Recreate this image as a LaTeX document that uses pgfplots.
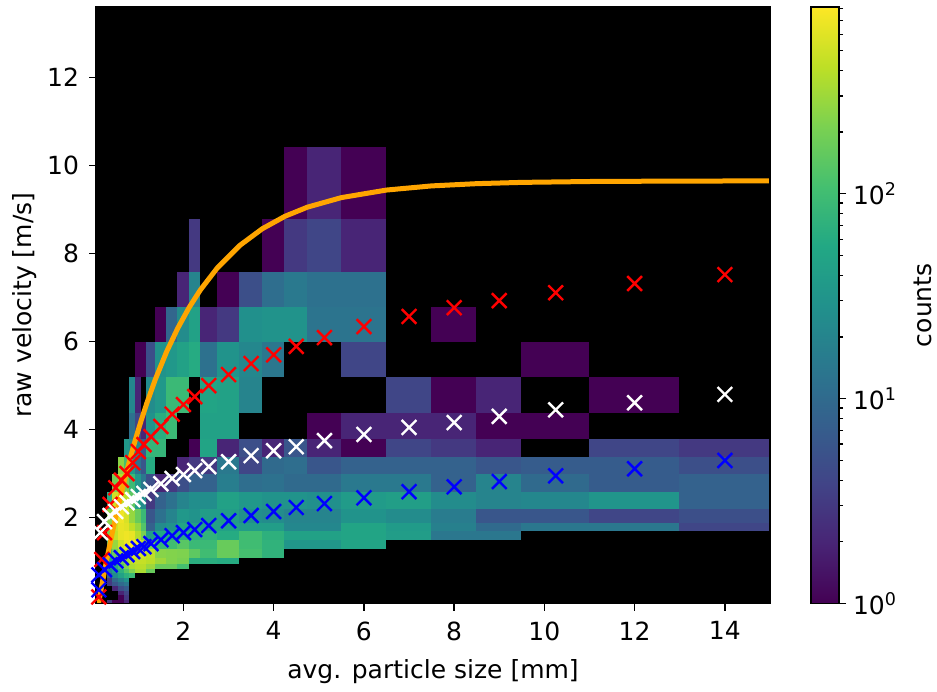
\documentclass[border=0pt]{standalone}
\usepackage{fontspec}
\setmainfont{DejaVu Sans}
\usepackage{pgfplots}
\pgfplotsset{compat=1.18}
\pgfplotsset{colormap={bviridis}{
 rgb255(0)=(0,0,0); rgb255(99)=(0,0,0);
 rgb255(100)=(68,1,84); rgb255(391)=(72,36,117); rgb255(681)=(65,68,135); rgb255(972)=(53,95,141);
 rgb255(1263)=(42,120,142); rgb255(1554)=(33,145,140); rgb255(1844)=(34,168,132); rgb255(2135)=(68,191,112);
 rgb255(2426)=(122,209,81); rgb255(2716)=(189,223,38); rgb255(3007)=(253,231,37)}}
\pgfplotsset{colormap={viridisb}{
 rgb255(0)=(68,1,84); rgb255(1)=(72,36,117); rgb255(2)=(65,68,135); rgb255(3)=(53,95,141);
 rgb255(4)=(42,120,142); rgb255(5)=(33,145,140); rgb255(6)=(34,168,132); rgb255(7)=(68,191,112);
 rgb255(8)=(122,209,81); rgb255(9)=(189,223,38); rgb255(10)=(253,231,37)}}
\definecolor{mplorange}{RGB}{255,165,0}
\begin{document}
\begin{tikzpicture}
\path[use as bounding box] (0,0) rectangle (468.5pt,345.5pt);
\begin{axis}[
 at={(48pt,43.75pt)},anchor=south west,scale only axis,width=337pt,height=298.25pt,
 xmin=0.062,xmax=15,ymin=0.05,ymax=13.6,
 xtick={2,4,6,8,10,12,14},ytick={2,4,6,8,10,12},
 xtick pos=bottom,ytick pos=left,tick align=outside,
 major tick length=3.5pt,
 every tick/.style={black,line width=.8pt},
 axis line style={line width=.8pt},
 /pgf/number format/assume math mode=true,
 tick label style={font=\fontsize{12.5}{15}\selectfont},
 xticklabel style={yshift=-2pt},yticklabel style={xshift=-1.5pt},
 xlabel={avg. particle size [mm]},ylabel={raw velocity [m/s]},
 every axis x label/.style={at={(axis description cs:0.5,0)},anchor=center,yshift=-34pt,font=\fontsize{12.5}{15}\selectfont},
 every axis y label/.style={at={(axis description cs:0,0.5)},anchor=center,rotate=90,yshift=35.5pt,font=\fontsize{12.5}{15}\selectfont},
 axis background/.style={fill=black},
 colormap name=bviridis,
 point meta min=-0.1,point meta max=2.907,
 clip=true,axis on top=true,
]
\addplot[surf,shader=flat corner,mesh/cols=28,mesh/ordering=x varies,line width=0pt,
 point meta={log10(max(\thisrow{c},0.1))}] table[row sep=\\,x=x,y=y] {
x y c\\
.062 .05 0\\.187 .05 0\\.312 .05 3\\.437 .05 1\\.562 .05 1\\.687 .05 2\\.812 .05 0\\.937 .05 0\\1.062 .05 0\\1.187 .05 0\\1.375 .05 0\\1.625 .05 0\\1.875 .05 0\\2.125 .05 0\\2.375 .05 0\\2.75 .05 0\\3.25 .05 0\\3.75 .05 0\\4.25 .05 0\\4.75 .05 0\\5.5 .05 0\\6.5 .05 0\\7.5 .05 0\\8.5 .05 0\\9.5 .05 0\\11 .05 0\\13 .05 0\\15 .05 0\\
.062 .15 0\\.187 .15 0\\.312 .15 0\\.437 .15 0\\.562 .15 1\\.687 .15 3\\.812 .15 0\\.937 .15 0\\1.062 .15 0\\1.187 .15 0\\1.375 .15 0\\1.625 .15 0\\1.875 .15 0\\2.125 .15 0\\2.375 .15 0\\2.75 .15 0\\3.25 .15 0\\3.75 .15 0\\4.25 .15 0\\4.75 .15 0\\5.5 .15 0\\6.5 .15 0\\7.5 .15 0\\8.5 .15 0\\9.5 .15 0\\11 .15 0\\13 .15 0\\15 .15 0\\
.062 .25 0\\.187 .25 0\\.312 .25 0\\.437 .25 0\\.562 .25 2\\.687 .25 4\\.812 .25 0\\.937 .25 0\\1.062 .25 0\\1.187 .25 0\\1.375 .25 0\\1.625 .25 0\\1.875 .25 0\\2.125 .25 0\\2.375 .25 0\\2.75 .25 0\\3.25 .25 0\\3.75 .25 0\\4.25 .25 0\\4.75 .25 0\\5.5 .25 0\\6.5 .25 0\\7.5 .25 0\\8.5 .25 0\\9.5 .25 0\\11 .25 0\\13 .25 0\\15 .25 0\\
.062 .35 0\\.187 .35 0\\.312 .35 0\\.437 .35 2\\.562 .35 5\\.687 .35 7\\.812 .35 0\\.937 .35 0\\1.062 .35 0\\1.187 .35 0\\1.375 .35 0\\1.625 .35 0\\1.875 .35 0\\2.125 .35 0\\2.375 .35 0\\2.75 .35 0\\3.25 .35 0\\3.75 .35 0\\4.25 .35 0\\4.75 .35 0\\5.5 .35 0\\6.5 .35 0\\7.5 .35 0\\8.5 .35 0\\9.5 .35 0\\11 .35 0\\13 .35 0\\15 .35 0\\
.062 .45 0\\.187 .45 0\\.312 .45 3\\.437 .45 6\\.562 .45 10\\.687 .45 14\\.812 .45 0\\.937 .45 0\\1.062 .45 0\\1.187 .45 0\\1.375 .45 0\\1.625 .45 0\\1.875 .45 0\\2.125 .45 0\\2.375 .45 0\\2.75 .45 0\\3.25 .45 0\\3.75 .45 0\\4.25 .45 0\\4.75 .45 0\\5.5 .45 0\\6.5 .45 0\\7.5 .45 0\\8.5 .45 0\\9.5 .45 0\\11 .45 0\\13 .45 0\\15 .45 0\\
.062 .55 0\\.187 .55 0\\.312 .55 3\\.437 .55 10\\.562 .55 18\\.687 .55 30\\.812 .55 0\\.937 .55 0\\1.062 .55 0\\1.187 .55 0\\1.375 .55 0\\1.625 .55 0\\1.875 .55 0\\2.125 .55 0\\2.375 .55 0\\2.75 .55 0\\3.25 .55 0\\3.75 .55 0\\4.25 .55 0\\4.75 .55 0\\5.5 .55 0\\6.5 .55 0\\7.5 .55 0\\8.5 .55 0\\9.5 .55 0\\11 .55 0\\13 .55 0\\15 .55 0\\
.062 .65 0\\.187 .65 0\\.312 .65 8\\.437 .65 25\\.562 .65 45\\.687 .65 70\\.812 .65 90\\.937 .65 0\\1.062 .65 0\\1.187 .65 0\\1.375 .65 0\\1.625 .65 0\\1.875 .65 0\\2.125 .65 0\\2.375 .65 0\\2.75 .65 0\\3.25 .65 0\\3.75 .65 0\\4.25 .65 0\\4.75 .65 0\\5.5 .65 0\\6.5 .65 0\\7.5 .65 0\\8.5 .65 0\\9.5 .65 0\\11 .65 0\\13 .65 0\\15 .65 0\\
.062 .75 0\\.187 .75 0\\.312 .75 20\\.437 .75 40\\.562 .75 70\\.687 .75 130\\.812 .75 220\\.937 .75 350\\1.062 .75 350\\1.187 .75 170\\1.375 .75 0\\1.625 .75 0\\1.875 .75 0\\2.125 .75 0\\2.375 .75 0\\2.75 .75 0\\3.25 .75 0\\3.75 .75 0\\4.25 .75 0\\4.75 .75 0\\5.5 .75 0\\6.5 .75 0\\7.5 .75 0\\8.5 .75 0\\9.5 .75 0\\11 .75 0\\13 .75 0\\15 .75 0\\
.062 .85 0\\.187 .85 0\\.312 .85 30\\.437 .85 60\\.562 .85 120\\.687 .85 220\\.812 .85 350\\.937 .85 400\\1.062 .85 400\\1.187 .85 300\\1.375 .85 170\\1.625 .85 170\\1.875 .85 110\\2.125 .85 0\\2.375 .85 0\\2.75 .85 0\\3.25 .85 0\\3.75 .85 0\\4.25 .85 0\\4.75 .85 0\\5.5 .85 0\\6.5 .85 0\\7.5 .85 0\\8.5 .85 0\\9.5 .85 0\\11 .85 0\\13 .85 0\\15 .85 0\\
.062 .95 0\\.187 .95 0\\.312 .95 50\\.437 .95 100\\.562 .95 200\\.687 .95 320\\.812 .95 420\\.937 .95 450\\1.062 .95 450\\1.187 .95 400\\1.375 .95 300\\1.625 .95 230\\1.875 .95 210\\2.125 .95 65\\2.375 .95 65\\2.75 .95 60\\3.25 .95 0\\3.75 .95 0\\4.25 .95 0\\4.75 .95 0\\5.5 .95 0\\6.5 .95 0\\7.5 .95 0\\8.5 .95 0\\9.5 .95 0\\11 .95 0\\13 .95 0\\15 .95 0\\
.062 1.1 0\\.187 1.1 0\\.312 1.1 80\\.437 1.1 180\\.562 1.1 350\\.687 1.1 500\\.812 1.1 550\\.937 1.1 550\\1.062 1.1 520\\1.187 1.1 420\\1.375 1.1 240\\1.625 1.1 230\\1.875 1.1 220\\2.125 1.1 150\\2.375 1.1 100\\2.75 1.1 170\\3.25 1.1 110\\3.75 1.1 75\\4.25 1.1 0\\4.75 1.1 0\\5.5 1.1 0\\6.5 1.1 0\\7.5 1.1 0\\8.5 1.1 0\\9.5 1.1 0\\11 1.1 0\\13 1.1 0\\15 1.1 0\\
.062 1.3 0\\.187 1.3 0\\.312 1.3 120\\.437 1.3 280\\.562 1.3 500\\.687 1.3 650\\.812 1.3 750\\.937 1.3 700\\1.062 1.3 420\\1.187 1.3 200\\1.375 1.3 85\\1.625 1.3 100\\1.875 1.3 140\\2.125 1.3 90\\2.375 1.3 90\\2.75 1.3 170\\3.25 1.3 100\\3.75 1.3 75\\4.25 1.3 33\\4.75 1.3 33\\5.5 1.3 50\\6.5 1.3 0\\7.5 1.3 0\\8.5 1.3 0\\9.5 1.3 0\\11 1.3 0\\13 1.3 0\\15 1.3 0\\
.062 1.5 0\\.187 1.5 0\\.312 1.5 180\\.437 1.5 450\\.562 1.5 650\\.687 1.5 700\\.812 1.5 650\\.937 1.5 380\\1.062 1.5 210\\1.187 1.5 40\\1.375 1.5 55\\1.625 1.5 55\\1.875 1.5 60\\2.125 1.5 70\\2.375 1.5 75\\2.75 1.5 60\\3.25 1.5 100\\3.75 1.5 70\\4.25 1.5 45\\4.75 1.5 45\\5.5 1.5 50\\6.5 1.5 40\\7.5 1.5 14\\8.5 1.5 14\\9.5 1.5 0\\11 1.5 0\\13 1.5 0\\15 1.5 0\\
.062 1.7 0\\.187 1.7 0\\.312 1.7 250\\.437 1.7 500\\.562 1.7 650\\.687 1.7 600\\.812 1.7 420\\.937 1.7 280\\1.062 1.7 130\\1.187 1.7 8\\1.375 1.7 25\\1.625 1.7 30\\1.875 1.7 50\\2.125 1.7 45\\2.375 1.7 45\\2.75 1.7 45\\3.25 1.7 40\\3.75 1.7 40\\4.25 1.7 22\\4.75 1.7 22\\5.5 1.7 50\\6.5 1.7 38\\7.5 1.7 18\\8.5 1.7 10\\9.5 1.7 14\\11 1.7 14\\13 1.7 4\\15 1.7 0\\
.062 1.9 0\\.187 1.9 0\\.312 1.9 250\\.437 1.9 600\\.562 1.9 700\\.687 1.9 550\\.812 1.9 280\\.937 1.9 170\\1.062 1.9 90\\1.187 1.9 6\\1.375 1.9 12\\1.625 1.9 20\\1.875 1.9 35\\2.125 1.9 30\\2.375 1.9 40\\2.75 1.9 40\\3.25 1.9 28\\3.75 1.9 25\\4.25 1.9 20\\4.75 1.9 20\\5.5 1.9 30\\6.5 1.9 25\\7.5 1.9 16\\8.5 1.9 6\\9.5 1.9 6\\11 1.9 4\\13 1.9 5\\15 1.9 0\\
.062 2.2 0\\.187 2.2 0\\.312 2.2 60\\.437 2.2 500\\.562 2.2 430\\.687 2.2 420\\.812 2.2 150\\.937 2.2 40\\1.062 2.2 25\\1.187 2.2 3\\1.375 2.2 8\\1.625 2.2 12\\1.875 2.2 20\\2.125 2.2 26\\2.375 2.2 26\\2.75 2.2 45\\3.25 2.2 35\\3.75 2.2 30\\4.25 2.2 30\\4.75 2.2 28\\5.5 2.2 38\\6.5 2.2 42\\7.5 2.2 25\\8.5 2.2 20\\9.5 2.2 22\\11 2.2 32\\13 2.2 8\\15 2.2 0\\
.062 2.6 0\\.187 2.6 0\\.312 2.6 0\\.437 2.6 200\\.562 2.6 380\\.687 2.6 200\\.812 2.6 95\\.937 2.6 35\\1.062 2.6 14\\1.187 2.6 5\\1.375 2.6 2\\1.625 2.6 3\\1.875 2.6 5\\2.125 2.6 8\\2.375 2.6 8\\2.75 2.6 17\\3.25 2.6 11\\3.75 2.6 12\\4.25 2.6 10\\4.75 2.6 10\\5.5 2.6 15\\6.5 2.6 15\\7.5 2.6 8\\8.5 2.6 20\\9.5 2.6 10\\11 2.6 7\\13 2.6 8\\15 2.6 0\\
.062 3 0\\.187 3 0\\.312 3 0\\.437 3 0\\.562 3 250\\.687 3 110\\.812 3 35\\.937 3 12\\1.062 3 6\\1.187 3 60\\1.375 3 0\\1.625 3 0\\1.875 3 2\\2.125 3 3\\2.375 3 3\\2.75 3 15\\3.25 3 4\\3.75 3 10\\4.25 3 11\\4.75 3 6\\5.5 3 8\\6.5 3 8\\7.5 3 8\\8.5 3 6\\9.5 3 7\\11 3 7\\13 3 5\\15 3 0\\
.062 3.4 0\\.187 3.4 0\\.312 3.4 0\\.437 3.4 0\\.562 3.4 0\\.687 3.4 35\\.812 3.4 25\\.937 3.4 25\\1.062 3.4 7\\1.187 3.4 80\\1.375 3.4 80\\1.625 3.4 0\\1.875 3.4 0\\2.125 3.4 1\\2.375 3.4 50\\2.75 3.4 2\\3.25 3.4 5\\3.75 3.4 2\\4.25 3.4 6\\4.75 3.4 2\\5.5 3.4 1\\6.5 3.4 4\\7.5 3.4 3\\8.5 3.4 2\\9.5 3.4 0\\11 3.4 4\\13 3.4 3\\15 3.4 0\\
.062 3.8 0\\.187 3.8 0\\.312 3.8 0\\.437 3.8 0\\.562 3.8 0\\.687 3.8 0\\.812 3.8 12\\.937 3.8 4\\1.062 3.8 2\\1.187 3.8 30\\1.375 3.8 65\\1.625 3.8 90\\1.875 3.8 0\\2.125 3.8 0\\2.375 3.8 45\\2.75 3.8 45\\3.25 3.8 0\\3.75 3.8 0\\4.25 3.8 0\\4.75 3.8 1\\5.5 3.8 2\\6.5 3.8 2\\7.5 3.8 2\\8.5 3.8 1\\9.5 3.8 1\\11 3.8 0\\13 3.8 0\\15 3.8 0\\
.062 4.4 0\\.187 4.4 0\\.312 4.4 0\\.437 4.4 0\\.562 4.4 0\\.687 4.4 0\\.812 4.4 22\\.937 4.4 2\\1.062 4.4 0\\1.187 4.4 25\\1.375 4.4 35\\1.625 4.4 90\\1.875 4.4 90\\2.125 4.4 0\\2.375 4.4 50\\2.75 4.4 45\\3.25 4.4 20\\3.75 4.4 0\\4.25 4.4 0\\4.75 4.4 0\\5.5 4.4 0\\6.5 4.4 4\\7.5 4.4 1\\8.5 4.4 2\\9.5 4.4 0\\11 4.4 1\\13 4.4 0\\15 4.4 0\\
.062 5.2 0\\.187 5.2 0\\.312 5.2 0\\.437 5.2 0\\.562 5.2 0\\.687 5.2 0\\.812 5.2 0\\.937 5.2 1\\1.062 5.2 1\\1.187 5.2 5\\1.375 5.2 30\\1.625 5.2 35\\1.875 5.2 45\\2.125 5.2 60\\2.375 5.2 12\\2.75 5.2 30\\3.25 5.2 22\\3.75 5.2 14\\4.25 5.2 0\\4.75 5.2 0\\5.5 5.2 4\\6.5 5.2 0\\7.5 5.2 0\\8.5 5.2 0\\9.5 5.2 1\\11 5.2 0\\13 5.2 0\\15 5.2 0\\
.062 6 0\\.187 6 0\\.312 6 0\\.437 6 0\\.562 6 0\\.687 6 0\\.812 6 0\\.937 6 0\\1.062 6 0\\1.187 6 0\\1.375 6 1\\1.625 6 9\\1.875 6 25\\2.125 6 45\\2.375 6 2\\2.75 6 3\\3.25 6 28\\3.75 6 30\\4.25 6 30\\4.75 6 13\\5.5 6 13\\6.5 6 0\\7.5 6 1\\8.5 6 0\\9.5 6 0\\11 6 0\\13 6 0\\15 6 0\\
.062 6.8 0\\.187 6.8 0\\.312 6.8 0\\.437 6.8 0\\.562 6.8 0\\.687 6.8 0\\.812 6.8 0\\.937 6.8 0\\1.062 6.8 0\\1.187 6.8 0\\1.375 6.8 0\\1.625 6.8 0\\1.875 6.8 2\\2.125 6.8 20\\2.375 6.8 0\\2.75 6.8 1\\3.25 6.8 5\\3.75 6.8 11\\4.25 6.8 15\\4.75 6.8 12\\5.5 6.8 12\\6.5 6.8 0\\7.5 6.8 0\\8.5 6.8 0\\9.5 6.8 0\\11 6.8 0\\13 6.8 0\\15 6.8 0\\
.062 7.6 0\\.187 7.6 0\\.312 7.6 0\\.437 7.6 0\\.562 7.6 0\\.687 7.6 0\\.812 7.6 0\\.937 7.6 0\\1.062 7.6 0\\1.187 7.6 0\\1.375 7.6 0\\1.625 7.6 0\\1.875 7.6 0\\2.125 7.6 3\\2.375 7.6 0\\2.75 7.6 0\\3.25 7.6 0\\3.75 7.6 1\\4.25 7.6 3\\4.75 7.6 4\\5.5 7.6 2\\6.5 7.6 0\\7.5 7.6 0\\8.5 7.6 0\\9.5 7.6 0\\11 7.6 0\\13 7.6 0\\15 7.6 0\\
.062 8.8 0\\.187 8.8 0\\.312 8.8 0\\.437 8.8 0\\.562 8.8 0\\.687 8.8 0\\.812 8.8 0\\.937 8.8 0\\1.062 8.8 0\\1.187 8.8 0\\1.375 8.8 0\\1.625 8.8 0\\1.875 8.8 0\\2.125 8.8 0\\2.375 8.8 0\\2.75 8.8 0\\3.25 8.8 0\\3.75 8.8 0\\4.25 8.8 1\\4.75 8.8 2\\5.5 8.8 1\\6.5 8.8 0\\7.5 8.8 0\\8.5 8.8 0\\9.5 8.8 0\\11 8.8 0\\13 8.8 0\\15 8.8 0\\
.062 10.4 0\\.187 10.4 0\\.312 10.4 0\\.437 10.4 0\\.562 10.4 0\\.687 10.4 0\\.812 10.4 0\\.937 10.4 0\\1.062 10.4 0\\1.187 10.4 0\\1.375 10.4 0\\1.625 10.4 0\\1.875 10.4 0\\2.125 10.4 0\\2.375 10.4 0\\2.75 10.4 0\\3.25 10.4 0\\3.75 10.4 0\\4.25 10.4 0\\4.75 10.4 0\\5.5 10.4 0\\6.5 10.4 0\\7.5 10.4 0\\8.5 10.4 0\\9.5 10.4 0\\11 10.4 0\\13 10.4 0\\15 10.4 0\\
};
\addplot[only marks,mark=x,mark size=5.2pt,red,mark options={line width=1.2pt}] coordinates {
(.125,.2)(.19,1.05)(.25,1.66)(.375,2.3)(.5,2.68)(.625,2.85)(.75,3.0)(.875,3.25)(1,3.5)(1.125,3.66)(1.28,3.84)(1.5,4.07)(1.75,4.35)(2,4.57)(2.25,4.75)(2.56,5.0)(3,5.25)(3.5,5.5)(4,5.7)(4.5,5.89)(5.125,6.09)(6,6.34)(7,6.57)(8,6.77)(9,6.93)(10.25,7.11)(12,7.32)(14,7.52)};
\addplot[only marks,mark=x,mark size=5.2pt,white,mark options={line width=1.2pt}] coordinates {
(.16,1.66)(.25,1.91)(.375,2.05)(.5,2.14)(.625,2.25)(.75,2.34)(.875,2.41)(1,2.48)(1.125,2.55)(1.28,2.64)(1.5,2.77)(1.75,2.89)(2,2.98)(2.25,3.07)(2.56,3.16)(3,3.27)(3.5,3.41)(4,3.52)(4.5,3.61)(5.125,3.75)(6,3.89)(7,4.05)(8,4.16)(9,4.3)(10.25,4.45)(12,4.61)(14,4.8)};
\addplot[mplorange,line width=2.5pt] coordinates {
(.062,-.274)(.187,.443)(.312,1.108)(.437,1.726)(.562,2.298)(.687,2.829)(.812,3.323)(.937,3.779)(1.062,4.203)(1.187,4.597)(1.375,5.136)(1.625,5.765)(1.875,6.306)(2.125,6.772)(2.375,7.173)(2.75,7.672)(3.25,8.185)(3.75,8.564)(4.25,8.846)(4.75,9.054)(5.5,9.27)(6.5,9.442)(7.5,9.536)(8.5,9.587)(9.5,9.616)(11,9.636)(13,9.646)(15,9.649)};
\addplot[only marks,mark=x,mark size=5.2pt,blue,mark options={line width=1.2pt}] coordinates {
(.125,.36)(.125,.7)(.25,.82)(.375,.93)(.5,1.02)(.625,1.09)(.75,1.16)(.875,1.23)(1,1.3)(1.125,1.34)(1.28,1.41)(1.5,1.5)(1.75,1.59)(2,1.66)(2.25,1.73)(2.56,1.82)(3,1.93)(3.5,2.05)(4,2.14)(4.5,2.23)(5.125,2.32)(6,2.45)(7,2.59)(8,2.7)(9,2.82)(10.25,2.95)(12,3.11)(14,3.3)};
\end{axis}
\begin{axis}[
 at={(405.5pt,43.75pt)},anchor=south west,scale only axis,width=14pt,height=298.25pt,
 ymode=log,xmin=0,xmax=1,ymin=1,ymax=815,
 xtick=\empty,ytick={1,10,100},
 minor ytick={2,3,4,5,6,7,8,9,20,30,40,50,60,70,80,90,200,300,400,500,600,700,800},
 yticklabels={10\textsuperscript{0},10\textsuperscript{1},10\textsuperscript{2}},
 ytick pos=right,tick align=outside,
 major tick length=3.5pt,minor tick length=2pt,
 every tick/.style={black,line width=.8pt},
 every minor tick/.style={black,line width=.6pt},
 axis line style={line width=.8pt},
 tick label style={font=\fontsize{12.5}{15}\selectfont},
 ylabel={counts},
 every axis y label/.style={at={(axis description cs:1,0.5)},anchor=center,rotate=90,yshift=-42pt,font=\fontsize{12.5}{15}\selectfont},
 colormap name=viridisb,point meta min=0,point meta max=1,
 axis on top=true,
]
\addplot[surf,shader=interp,mesh/cols=2,mesh/ordering=x varies,point meta=\thisrow{m}] table[row sep=\\] {
x y m\\
0 1 0\\1 1 0\\
0 1.95 .1\\1 1.95 .1\\
0 3.81 .2\\1 3.81 .2\\
0 7.44 .3\\1 7.44 .3\\
0 14.5 .4\\1 14.5 .4\\
0 28.4 .5\\1 28.4 .5\\
0 55.5 .6\\1 55.5 .6\\
0 108 .7\\1 108 .7\\
0 212 .8\\1 212 .8\\
0 414 .9\\1 414 .9\\
0 815 1\\1 815 1\\
};
\end{axis}
\end{tikzpicture}
\end{document}
